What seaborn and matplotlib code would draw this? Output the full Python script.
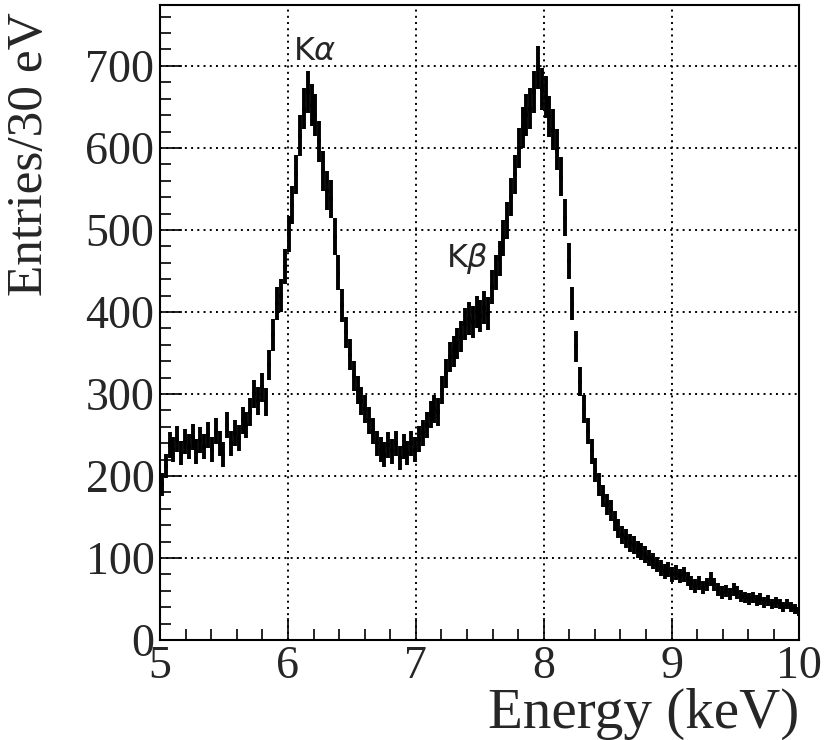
import numpy as np
import pandas as pd
import matplotlib
matplotlib.use("Agg")
import matplotlib.pyplot as plt
import seaborn as sns
from matplotlib.ticker import MultipleLocator

# ------------------------------
# Spectrum data (30 eV bins from 5 keV)
# ------------------------------
bin_start = 5.0
bin_width = 0.03
counts = [
    190, 212, 238, 232, 245, 228, 242, 236, 248, 230,
    244, 236, 250, 232, 255, 240, 226, 262, 240, 252,
    246, 268, 262, 278, 300, 292, 308, 290, 335, 372,
    410, 420, 455, 495, 530, 568, 615, 648, 668, 652,
    640, 608, 572, 548, 538, 492, 448, 408, 375, 348,
    322, 305, 292, 282, 268, 255, 240, 232, 226, 238,
    230, 240, 222, 236, 228, 240, 232, 245, 252, 262,
    275, 282, 278, 305, 325, 345, 352, 362, 370, 385,
    392, 388, 400, 395, 405, 398, 430, 448, 465, 490,
    512, 540, 568, 600, 625, 640, 648, 668, 698, 672,
    662, 638, 622, 598, 565, 515, 462, 410, 358, 315,
    282, 255, 230, 207, 190, 176, 165, 158, 145, 136,
    128, 124, 118, 116, 110, 108, 104, 100, 96, 92,
    88, 84, 86, 80, 82, 78, 80, 74, 70, 66,
    70, 64, 68, 74, 68, 62, 58, 60, 56, 62,
    58, 54, 52, 50, 52, 48, 50, 46, 48, 44,
    46, 44, 40, 44, 40, 38, 35,
]
peak_labels = [r"K$\alpha$", r"K$\beta$"]
peak_energy = [6.21, 7.40]
peak_height = [707, 455]

energy = bin_start + bin_width * (np.arange(len(counts)) + 0.5)
df = pd.DataFrame({"Energy": energy, "Entries": counts})
df["Err"] = np.sqrt(df["Entries"])

# ------------------------------
# Plot
# ------------------------------
sns.set_theme(style="ticks")
plt.rcParams["font.family"] = ["Liberation Serif", "DejaVu Serif"]
plt.rcParams["mathtext.fontset"] = "dejavusans"

fig = plt.figure(figsize=(8.25, 7.4), dpi=100)
ax = fig.add_axes([0.194, 0.135, 0.775, 0.858])

ax.errorbar(df["Energy"], df["Entries"], xerr=bin_width / 2, yerr=df["Err"],
            fmt="none", ecolor="black", elinewidth=2.8, capsize=0)

ax.set_xlim(5, 10)
ax.set_ylim(0, 774)
ax.xaxis.set_major_locator(MultipleLocator(1))
ax.xaxis.set_minor_locator(MultipleLocator(0.2))
ax.yaxis.set_major_locator(MultipleLocator(100))
ax.yaxis.set_minor_locator(MultipleLocator(20))
ax.tick_params(which="both", direction="in", top=False, right=False,
               color="black", width=1.2)
ax.tick_params(which="major", length=16, labelsize=33, pad=4)
ax.tick_params(which="minor", length=8)
ax.grid(True, which="major", linestyle=(0, (1, 2.2)), color="black", linewidth=1.4)

for sp in ax.spines.values():
    sp.set_color("black")
    sp.set_linewidth(1.5)

ax.set_xlabel("Energy (keV)", fontsize=41, loc="right", labelpad=0)
ax.set_ylabel("Entries/30 eV", fontsize=37)
ax.yaxis.set_label_coords(-0.168, 0.765)

for lab, xe, ye in zip(peak_labels, peak_energy, peak_height):
    ax.text(xe, ye, lab, fontsize=23, ha="center", va="baseline",
            family=["DejaVu Sans"])

fig.savefig("out.png", dpi=100)
